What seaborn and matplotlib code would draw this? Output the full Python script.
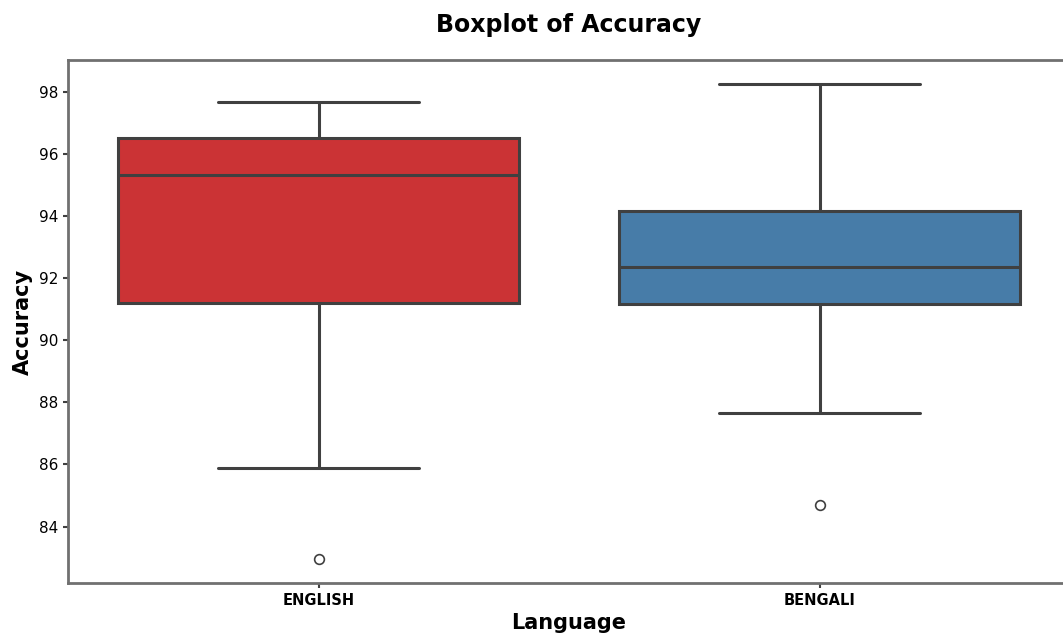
import pandas as pd
import matplotlib.pyplot as plt
import seaborn as sns

english_acc = [82.95, 85.9, 91.2, 93.5, 95.3, 96.0, 96.5, 97.0, 97.65]
bengali_acc = [84.7, 87.65, 91.15, 91.8, 92.35, 93.2, 94.15, 96.0, 98.25]
languages = ['ENGLISH', 'BENGALI']

df = pd.DataFrame({
  'Language': [languages[0]] * len(english_acc) + [languages[1]] * len(bengali_acc),
  'Accuracy': english_acc + bengali_acc,
})

sns.set_style('ticks')
plt.rcParams['font.family'] = ['DejaVu Sans']
plt.rcParams['text.color'] = 'black'
plt.rcParams['axes.labelcolor'] = 'black'
plt.rcParams['xtick.color'] = 'black'
plt.rcParams['ytick.color'] = 'black'

fig = plt.figure(figsize=(10.63, 6.39), dpi=100)
ax = fig.add_axes([68 / 1063, 1 - 583 / 639, 1002 / 1063, 523 / 639])

sns.boxplot(x='Language', y='Accuracy', data=df, hue='Language', palette='Set1',
            order=languages, legend=False, linewidth=2.2, linecolor='#404040',
            width=0.8, ax=ax,
            flierprops=dict(marker='o', markersize=7, markerfacecolor='white',
                            markeredgecolor='#404040', markeredgewidth=1.2))

for side in ['top', 'right', 'left', 'bottom']:
  ax.spines[side].set_visible(True)
  ax.spines[side].set_color('#707070')
  ax.spines[side].set_linewidth(2)

ax.set_yticks([84, 86, 88, 90, 92, 94, 96, 98])
ax.tick_params(axis='y', labelsize=11, width=1.5, color='#404040')
ax.tick_params(axis='x', labelsize=10.5, width=1.5, color='#404040')
for lbl in ax.get_xticklabels():
  lbl.set_fontweight('bold')

ax.set_xlabel('Language', fontsize=15, fontweight='bold')
ax.set_ylabel('Accuracy', fontsize=15, fontweight='bold')
fig.suptitle('Boxplot of Accuracy', fontsize=17, fontweight='bold', x=0.535, y=0.98)

plt.savefig('out.png', dpi=100)
